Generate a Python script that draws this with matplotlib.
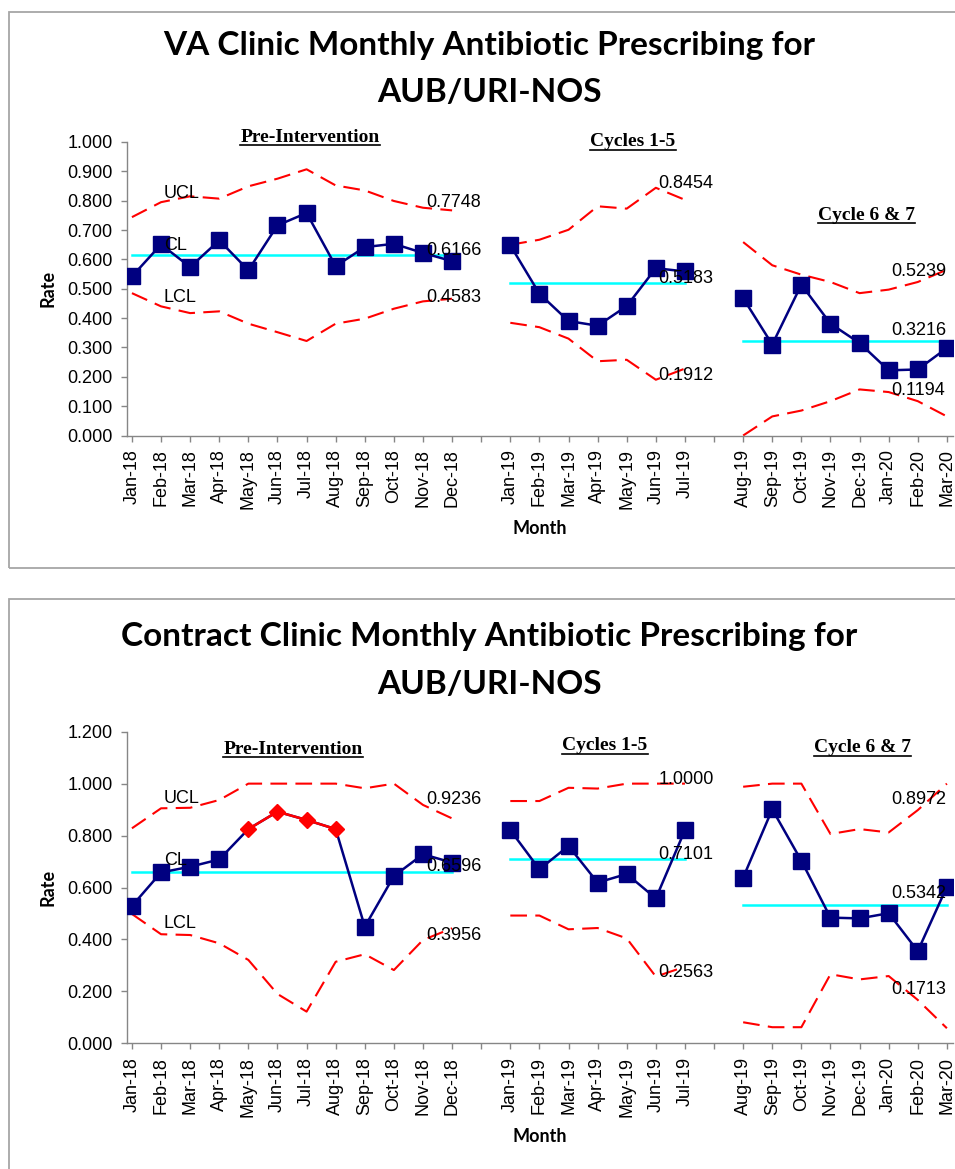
import matplotlib
matplotlib.use("Agg")
import matplotlib.pyplot as plt
from matplotlib import font_manager
from matplotlib.patches import Rectangle
from matplotlib.lines import Line2D

# ---------------- data ----------------
months = ["Jan-18", "Feb-18", "Mar-18", "Apr-18", "May-18", "Jun-18", "Jul-18", "Aug-18",
          "Sep-18", "Oct-18", "Nov-18", "Dec-18", "",
          "Jan-19", "Feb-19", "Mar-19", "Apr-19", "May-19", "Jun-19", "Jul-19", "",
          "Aug-19", "Sep-19", "Oct-19", "Nov-19", "Dec-19", "Jan-20", "Feb-20", "Mar-20"]

pre_months = months[0:12]
c15_months = months[13:20]
c67_months = months[21:29]

# VA clinic
va_pre_rate = [0.542, 0.651, 0.574, 0.665, 0.563, 0.716, 0.758, 0.577, 0.642, 0.653, 0.622, 0.594]
va_pre_ucl = [0.744, 0.795, 0.815, 0.807, 0.849, 0.875, 0.907, 0.852, 0.835, 0.799, 0.776, 0.767]
va_pre_lcl = [0.485, 0.440, 0.417, 0.423, 0.381, 0.352, 0.322, 0.381, 0.398, 0.432, 0.457, 0.466]
va_pre_cl = 0.6166
va_c15_rate = [0.648, 0.483, 0.390, 0.374, 0.441, 0.570, 0.559]
va_c15_ucl = [0.650, 0.667, 0.701, 0.781, 0.773, 0.844, 0.803]
va_c15_lcl = [0.384, 0.369, 0.330, 0.253, 0.258, 0.190, 0.228]
va_c15_cl = 0.5183
va_c67_rate = [0.468, 0.310, 0.514, 0.381, 0.315, 0.222, 0.225, 0.298]
va_c67_ucl = [0.659, 0.580, 0.548, 0.523, 0.485, 0.497, 0.523, 0.565]
va_c67_lcl = [0.000, 0.065, 0.085, 0.117, 0.157, 0.148, 0.117, 0.065]
va_c67_cl = 0.3216
va_labels = {"pre": ["0.7748", "0.6166", "0.4583"],
             "c15": ["0.8454", "0.5183", "0.1912"],
             "c67": ["0.5239", "0.3216", "0.1194"]}

# Contract clinic
cc_pre_rate = [0.529, 0.658, 0.680, 0.708, 0.825, 0.892, 0.860, 0.825, 0.449, 0.644, 0.728, 0.696]
cc_pre_special = ["May-18", "Jun-18", "Jul-18", "Aug-18"]
cc_pre_ucl = [0.828, 0.905, 0.907, 0.937, 1.000, 1.000, 1.000, 1.000, 0.982, 1.000, 0.918, 0.866]
cc_pre_lcl = [0.498, 0.420, 0.417, 0.385, 0.321, 0.190, 0.122, 0.314, 0.343, 0.282, 0.398, 0.443]
cc_pre_cl = 0.6596
cc_c15_rate = [0.821, 0.670, 0.760, 0.619, 0.652, 0.558, 0.821]
cc_c15_ucl = [0.933, 0.933, 0.984, 0.981, 1.000, 1.000, 1.000]
cc_c15_lcl = [0.492, 0.492, 0.439, 0.444, 0.404, 0.257, 0.295]
cc_c15_cl = 0.7101
cc_c67_rate = [0.638, 0.901, 0.703, 0.484, 0.481, 0.501, 0.355, 0.603]
cc_c67_ucl = [0.988, 1.000, 1.000, 0.806, 0.825, 0.812, 0.898, 1.000]
cc_c67_lcl = [0.081, 0.062, 0.062, 0.266, 0.246, 0.259, 0.167, 0.058]
cc_c67_cl = 0.5342
cc_labels = {"pre": ["0.9236", "0.6596", "0.3956"],
             "c15": ["1.0000", "0.7101", "0.2563"],
             "c67": ["0.8972", "0.5342", "0.1713"]}

section_titles = ["Pre-Intervention", "Cycles 1-5", "Cycle 6 & 7"]

# ---------------- fonts ----------------
names = {f.name for f in font_manager.fontManager.ttflist}
NARROW = "Liberation Sans Narrow" if "Liberation Sans Narrow" in names else "Lato"
SANS = "Liberation Sans"
SERIF = "Liberation Serif"

W, H = 955, 1169
fig = plt.figure(figsize=(W / 100, H / 100), dpi=100)


def fx(px):
    return px / W


def fy(py):
    return 1 - py / H


# panel borders
for (x0, y0, x1, y1) in [(9, 12, 970, 568), (9, 599, 970, 1190)]:
    fig.patches.append(Rectangle((fx(x0), fy(y1)), fx(x1 - x0), (y1 - y0) / H,
                                 transform=fig.transFigure, fill=False,
                                 edgecolor="#a6a6a6", linewidth=1.3, zorder=0))

NAVY = "#000080"
RED = "#ff0000"
CYAN = "#00ffff"
GRAY = "#868686"

underline_texts = []


def make_panel(ax_rect, ymax, ystep, data, labels, text_pos, val_pos, sec_pos, special=None):
    ax = fig.add_axes(ax_rect)
    segs = [(list(range(0, 12)), pre_months, "pre"),
            (list(range(13, 20)), c15_months, "c15"),
            (list(range(21, 29)), c67_months, "c67")]
    for (xs, mlist, key) in segs:
        rate, ucl, lcl, cl = data[key]
        ax.plot(xs, ucl, color=RED, lw=1.5, dashes=(8, 4), zorder=2)
        ax.plot(xs, lcl, color=RED, lw=1.5, dashes=(8, 4), zorder=2)
        ax.plot(xs, [cl] * len(xs), color=CYAN, lw=1.8, zorder=3)
        ax.plot(xs, rate, color=NAVY, lw=1.8, zorder=4)
        if special and key == "pre":
            sx = [x for x, m in zip(xs, mlist) if m in special]
            sy = [r for r, m in zip(rate, mlist) if m in special]
            nx = [x for x, m in zip(xs, mlist) if m not in special]
            ny = [r for r, m in zip(rate, mlist) if m not in special]
            ax.plot(nx, ny, ls="none", marker="s", ms=11, color=NAVY, zorder=5)
            ax.plot(sx, sy, color=RED, lw=1.8, marker="D", ms=8.5, zorder=6)
        else:
            ax.plot(xs, rate, ls="none", marker="s", ms=11, color=NAVY, zorder=5)
        # value labels
        vx, vys = val_pos[key]
        for lab, vy in zip(labels[key], vys):
            ax.text(vx, vy, lab, fontsize=13, family=SANS, ha="left", va="center",
                    color="black", zorder=7)
    # UCL / CL / LCL labels
    for lab, (tx, ty) in zip(["UCL", "CL", "LCL"], text_pos):
        ax.text(tx, ty, lab, fontsize=13, family=SANS, ha="left", va="center", zorder=7)

    ax.set_xlim(-0.17, 28.21)
    ax.set_ylim(0, ymax)
    nt = int(round(ymax / ystep))
    yt = [i * ystep for i in range(nt + 1)]
    ax.set_yticks(yt)
    ax.set_yticklabels([f"{v:.3f}" for v in yt], fontsize=13, family=SANS)
    ax.set_xticks(range(len(months)))
    ax.set_xticklabels(months, rotation=90, fontsize=13, family=SANS)
    for s in ["top", "right"]:
        ax.spines[s].set_visible(False)
    for s in ["left", "bottom"]:
        ax.spines[s].set_color(GRAY)
        ax.spines[s].set_linewidth(1.0)
    ax.tick_params(axis="both", colors=GRAY, length=4.3, width=1.0, labelcolor="black")
    ax.tick_params(axis="x", pad=5.5)
    ax.tick_params(axis="y", pad=6)
    ax.set_ylabel("Rate", fontsize=13, family=NARROW, fontweight="bold", labelpad=8)
    ax.set_xlabel("Month", fontsize=13, family=NARROW, fontweight="bold", labelpad=8)
    for t, (px, py) in zip(section_titles, sec_pos):
        tt = fig.text(fx(px), fy(py), t, fontsize=14, family=SERIF, fontweight="bold",
                      ha="center", va="center")
        underline_texts.append(tt)
    return ax


# ---- VA clinic panel ----
va_data = {"pre": (va_pre_rate, va_pre_ucl, va_pre_lcl, va_pre_cl),
           "c15": (va_c15_rate, va_c15_ucl, va_c15_lcl, va_c15_cl),
           "c67": (va_c67_rate, va_c67_ucl, va_c67_lcl, va_c67_cl)}
ax1 = make_panel([fx(127), fy(435.5), fx(826), (435.5 - 142) / H], 1.0, 0.1, va_data, va_labels,
                 text_pos=[(1.1, 0.826), (1.1, 0.648), (1.1, 0.471)],
                 val_pos={"pre": (10.1, [0.795, 0.631, 0.470]),
                          "c15": (18.1, [0.860, 0.536, 0.205]),
                          "c67": (26.1, [0.560, 0.358, 0.154])},
                 sec_pos=[(310, 137), (633, 142), (866, 216)])

fig.text(fx(489), fy(55), "VA Clinic Monthly Antibiotic Prescribing for", fontsize=24,
         family=NARROW, fontweight="bold", ha="center", va="baseline")
fig.text(fx(489), fy(101.5), "AUB/URI-NOS", fontsize=24,
         family=NARROW, fontweight="bold", ha="center", va="baseline")

# ---- Contract clinic panel ----
cc_data = {"pre": (cc_pre_rate, cc_pre_ucl, cc_pre_lcl, cc_pre_cl),
           "c15": (cc_c15_rate, cc_c15_ucl, cc_c15_lcl, cc_c15_cl),
           "c67": (cc_c67_rate, cc_c67_ucl, cc_c67_lcl, cc_c67_cl)}
ax2 = make_panel([fx(127), fy(1043.3), fx(826), (1043.3 - 731.7) / H], 1.2, 0.2, cc_data, cc_labels,
                 text_pos=[(1.1, 0.942), (1.1, 0.705), (1.1, 0.462)],
                 val_pos={"pre": (10.1, [0.940, 0.679, 0.417]),
                          "c15": (18.1, [1.017, 0.729, 0.274]),
                          "c67": (26.1, [0.940, 0.575, 0.209])},
                 sec_pos=[(293, 749), (605, 746), (862, 748)],
                 special=cc_pre_special)

fig.text(fx(489), fy(646), "Contract Clinic Monthly Antibiotic Prescribing for", fontsize=24,
         family=NARROW, fontweight="bold", ha="center", va="baseline")
fig.text(fx(489), fy(694), "AUB/URI-NOS", fontsize=24,
         family=NARROW, fontweight="bold", ha="center", va="baseline")

# underline section titles
fig.canvas.draw()
r = fig.canvas.get_renderer()
for t in underline_texts:
    bb = t.get_window_extent(r)
    y = bb.y0 + 1
    fig.add_artist(Line2D([bb.x0 / W, bb.x1 / W], [y / H, y / H], transform=fig.transFigure,
                          color="black", lw=1.2))

fig.savefig("out.png", dpi=100)
